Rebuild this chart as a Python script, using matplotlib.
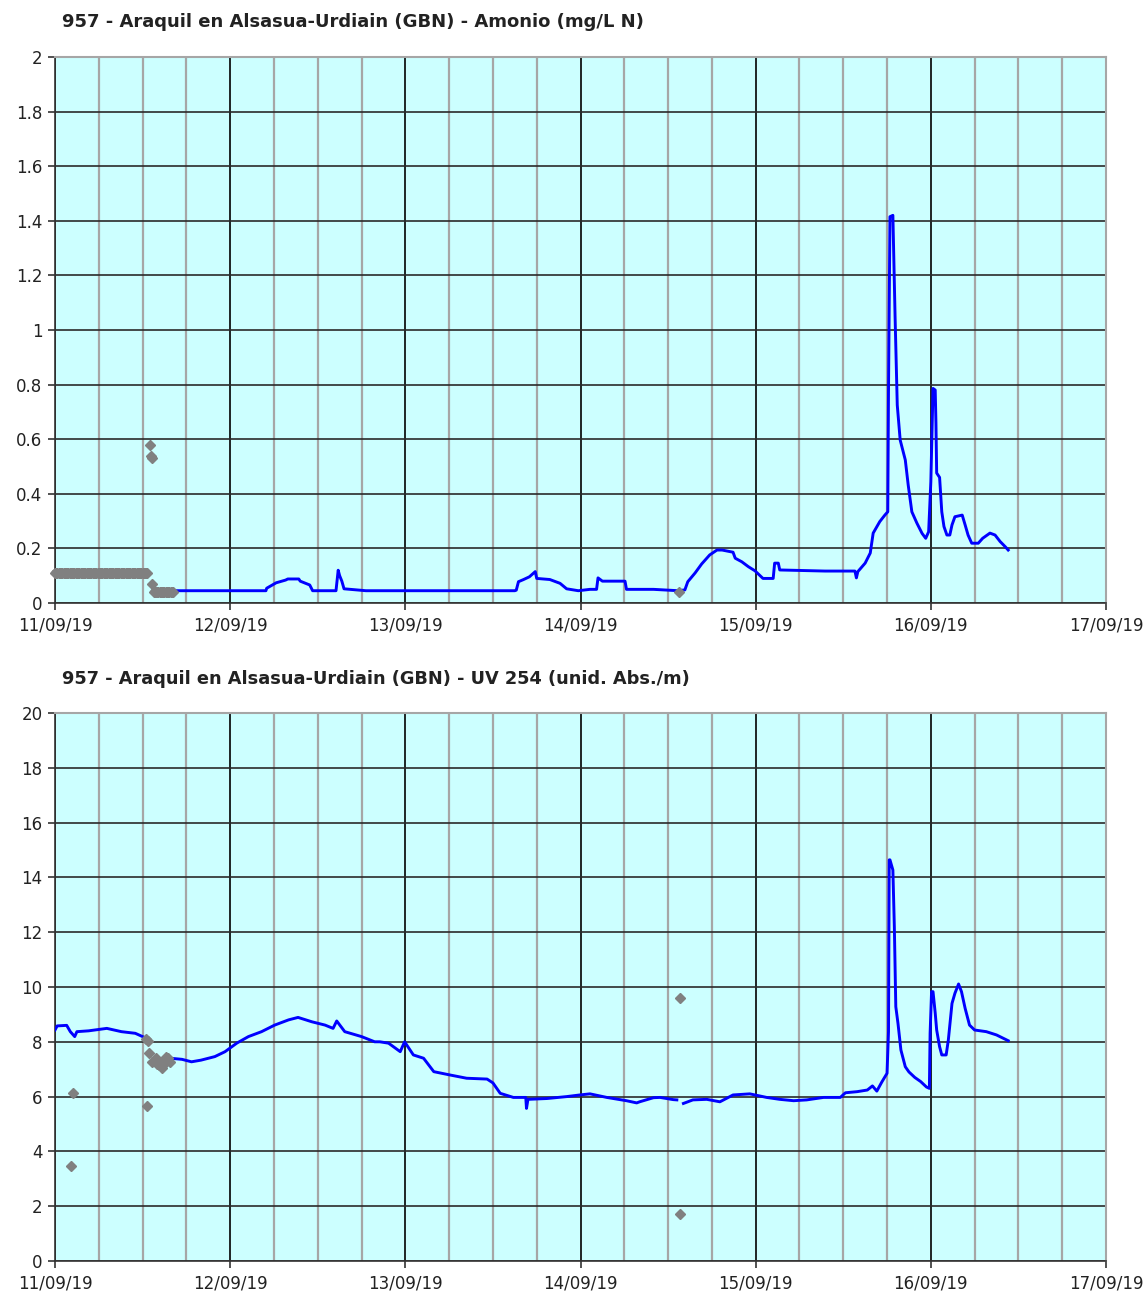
import numpy as np
import pandas as pd
import matplotlib
matplotlib.use("Agg")
import matplotlib.pyplot as plt
import matplotlib.dates as mdates
from matplotlib.ticker import FuncFormatter, MultipleLocator

START = pd.Timestamp("2019-09-11")

# --- Amonio (mg/L N), hours since 11/09/19 00:00 ---
amo_t = [14.0, 28.9, 29.0, 30.3, 31.6, 31.9, 33.4, 33.6, 34.9, 35.3, 38.5, 38.8, 39.0, 39.3, 39.6,
         42.6, 63.0, 63.2, 63.5, 64.2, 65.0, 65.8, 66.0, 67.8, 69.2, 70.1, 71.7, 73.3, 74.2, 74.4,
         75.0, 78.1, 78.3, 82.0, 85.4, 86.3, 86.7, 87.7, 88.6, 89.7, 90.7, 91.4, 92.9, 93.2, 94.1,
         95.0, 95.9, 97.0, 98.4, 98.6, 99.1, 99.3, 105.5, 109.6, 109.8, 110.0, 111.0, 111.7, 112.1,
         113.0, 113.7, 114.1, 114.2, 114.4, 114.8, 115.1, 115.4, 115.8, 116.5, 116.9, 117.4, 118.1,
         118.8, 119.3, 119.7, 120.0, 120.3, 120.6, 120.7, 120.8, 121.2, 121.5, 121.8, 122.2, 122.6,
         122.9, 123.3, 124.3, 124.7, 125.1, 125.6, 126.5, 127.1, 128.1, 128.8, 129.5, 130.2, 130.6]
amo_v = [0.045, 0.045, 0.054, 0.074, 0.084, 0.088, 0.088, 0.080, 0.066, 0.045, 0.045, 0.120, 0.100, 0.080, 0.052,
         0.045, 0.045, 0.047, 0.078, 0.086, 0.096, 0.115, 0.090, 0.086, 0.072, 0.052, 0.045, 0.050, 0.050, 0.092,
         0.080, 0.080, 0.050, 0.050, 0.045, 0.048, 0.078, 0.110, 0.143, 0.176, 0.194, 0.194, 0.186, 0.164, 0.151,
         0.133, 0.118, 0.090, 0.090, 0.146, 0.146, 0.121, 0.117, 0.117, 0.092, 0.115, 0.146, 0.183, 0.256,
         0.298, 0.322, 0.334, 0.780, 1.415, 1.420, 1.050, 0.725, 0.597, 0.524, 0.432, 0.334, 0.292,
         0.255, 0.237, 0.261, 0.444, 0.786, 0.780, 0.660, 0.476, 0.460, 0.334, 0.280, 0.249, 0.249,
         0.286, 0.316, 0.322, 0.286, 0.249, 0.219, 0.219, 0.237, 0.256, 0.249, 0.225, 0.206, 0.194]

# invalid readings shown in grey (10-minute records)
amo_band1_t = np.arange(0, 12.75, 1 / 6)
amo_band1_v = [0.11] * len(amo_band1_t)
amo_band2_t = np.arange(13.5, 16.3, 1 / 6)
amo_band2_v = [0.04] * len(amo_band2_t)
amo_grey_t = [13.0, 13.2, 13.3, 13.3, 85.5]
amo_grey_v = [0.58, 0.54, 0.53, 0.07, 0.042]

# --- UV 254 (unid. Abs./m) ---
uv_t = [0.0, 0.3, 1.6, 2.1, 2.7, 3.0, 4.6, 7.1, 9.1, 11.0, 12.0, np.nan,
        15.8, 17.4, 18.7, 20.0, 21.9, 23.3, 24.9, 26.5, 28.3, 30.1, 32.0, 33.3, 35.2, 37.0, 38.1,
        38.6, 39.7, 42.0, 43.8, 44.5, 45.7, 47.3, 47.9, 49.1, 50.5, 51.9, 54.1, 56.4, 59.2, 60.0,
        61.0, 62.8, 64.5, 64.6, 64.8, 67.4, 70.1, 71.9, 73.3, 75.6, 78.3, 79.7, 80.1, 82.0, 82.9,
        84.7, 85.2, np.nan, 86.1, 87.4, 89.3, 91.1, 92.9, 95.2, 97.5, 99.3, 101.2, 103.0, 105.3,
        107.6, 108.3, 109.9, 111.3, 112.0, 112.6, 113.3, 114.0, 114.2, 114.3, 114.4, 114.8, 115.0,
        115.2, 115.5, 115.9, 116.5, 117.0, 117.8, 118.6, 119.4, 119.8, 119.9, 120.1, 120.3, 120.6,
        120.8, 121.2, 121.5, 122.1, 122.4, 122.9, 123.3, 123.8, 124.2, 124.7, 125.3, 126.0, 127.6,
        129.0, 130.6]
uv_v = [8.43, 8.58, 8.60, 8.37, 8.19, 8.37, 8.40, 8.49, 8.37, 8.31, 8.19, np.nan,
        7.40, 7.36, 7.27, 7.33, 7.46, 7.64, 7.95, 8.19, 8.37, 8.61, 8.80, 8.89, 8.73, 8.61, 8.49,
        8.76, 8.37, 8.19, 8.00, 8.00, 7.95, 7.64, 8.00, 7.52, 7.40, 6.91, 6.79, 6.67, 6.64, 6.50,
        6.12, 5.97, 5.97, 5.57, 5.90, 5.93, 6.00, 6.06, 6.10, 5.97, 5.85, 5.77, 5.81, 5.96, 5.97,
        5.89, 5.88, np.nan, 5.75, 5.88, 5.90, 5.81, 6.06, 6.10, 5.97, 5.90, 5.85, 5.88, 5.97,
        5.97, 6.14, 6.18, 6.24, 6.39, 6.20, 6.54, 6.85, 8.37, 14.64, 14.64, 14.27, 12.20,
        9.28, 8.67, 7.70, 7.09, 6.90, 6.70, 6.55, 6.35, 6.30, 8.30, 9.83, 9.83, 9.05,
        8.43, 7.82, 7.52, 7.52, 8.07, 9.40, 9.77, 10.11, 9.83, 9.22, 8.61, 8.43, 8.37,
        8.25, 8.04]

uv_grey_t = [2.2, 2.5, 12.5, 12.7, 12.9, 12.6, 13.3, 13.8, 14.2, 14.6, 15.0, 15.2, 15.5, 15.7, 14.0, 14.9, 85.6, 85.6]
uv_grey_v = [3.48, 6.12, 8.09, 8.04, 7.60, 5.66, 7.27, 7.40, 7.15, 7.03, 7.34, 7.46, 7.40, 7.25, 7.20, 7.19, 9.60, 1.72]

TITLES = ["957 - Araquil en Alsasua-Urdiain (GBN) - Amonio (mg/L N)",
          "957 - Araquil en Alsasua-Urdiain (GBN) - UV 254 (unid. Abs./m)"]

GREY = "#808080"
BLUE = "#0000FF"


def to_dates(hours):
    return START + pd.to_timedelta(np.asarray(hours, dtype=float), unit="h")


def style(ax, ymax, ystep):
    ax.set_facecolor("#CCFFFF")
    ax.set_xlim(START, START + pd.Timedelta(days=6))
    ax.set_ylim(0, ymax)
    ax.xaxis.set_major_locator(mdates.DayLocator())
    ax.xaxis.set_minor_locator(mdates.HourLocator(byhour=[6, 12, 18]))
    ax.xaxis.set_major_formatter(mdates.DateFormatter("%d/%m/%y"))
    ax.yaxis.set_major_locator(MultipleLocator(ystep))
    ax.yaxis.set_major_formatter(FuncFormatter(lambda v, p: f"{v:g}"))
    ax.grid(which="major", axis="y", color="#2a2a2a", lw=1.2, zorder=1)
    ax.grid(which="minor", axis="x", color="#a6a6a6", lw=1.6, zorder=1)
    ax.grid(which="major", axis="x", color="black", lw=1.2, zorder=1)
    ax.set_axisbelow(True)
    ax.tick_params(axis="both", which="major", direction="out", length=5, width=1.2,
                   color="#333333", labelsize=12, labelcolor="#222222")
    ax.tick_params(axis="x", which="minor", length=0)
    ax.tick_params(axis="x", pad=5)
    ax.tick_params(axis="y", pad=4)
    for s in ("top", "right"):
        ax.spines[s].set_color("#a6a6a6")
        ax.spines[s].set_linewidth(1.5)
    for s in ("left", "bottom"):
        ax.spines[s].set_color("#333333")
        ax.spines[s].set_linewidth(1.2)


def grey_band(ax, t, v):
    # dense run of invalid points: draw as overlapping diamonds joined by a thick stroke
    ax.plot(to_dates(t), v, color=GREY, lw=5.5, solid_capstyle="round",
            marker="D", ms=5, mec=GREY, zorder=4, clip_on=False)


fig = plt.figure(figsize=(11.48, 12.94), dpi=100)
ax1 = fig.add_axes([55 / 1148, 1 - 603 / 1294, 1051 / 1148, 546 / 1294])
ax2 = fig.add_axes([55 / 1148, 1 - 1261 / 1294, 1051 / 1148, 548 / 1294])

style(ax1, 2, 0.2)
ax1.plot(to_dates(amo_t), amo_v, color=BLUE, lw=2.1, zorder=3)
grey_band(ax1, amo_band1_t, amo_band1_v)
grey_band(ax1, amo_band2_t, amo_band2_v)
ax1.plot(to_dates(amo_grey_t), amo_grey_v, ls="none", marker="D", ms=5,
         color=GREY, mec=GREY, zorder=4)

style(ax2, 20, 2)
ax2.plot(to_dates(uv_t), uv_v, color=BLUE, lw=2.1, zorder=3)
ax2.plot(to_dates(uv_grey_t), uv_grey_v, ls="none", marker="D", ms=5,
         color=GREY, mec=GREY, zorder=4)

fig.text(62 / 1148, 1 - 22 / 1294, TITLES[0], fontsize=13, fontweight="bold",
         color="#222222", va="center", ha="left")
fig.text(62 / 1148, 1 - 679 / 1294, TITLES[1], fontsize=12.8, fontweight="bold",
         color="#222222", va="center", ha="left")

fig.savefig("out.png", dpi=100)
